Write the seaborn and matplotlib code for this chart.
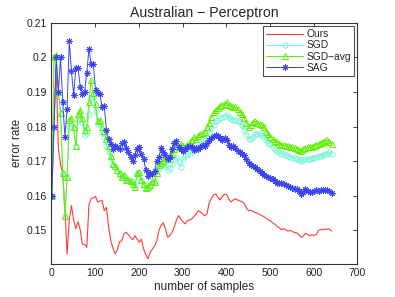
import pandas as pd
import matplotlib
matplotlib.use('Agg')
import matplotlib.pyplot as plt
import seaborn as sns

# number of samples seen (x positions of the recorded points)
n_samples = list(range(1, 642, 5))

# error rate of each method
err_ours = [
    0.160, 0.180, 0.197, 0.1736, 0.169, 0.1664, 0.1562, 0.1432, 0.153, 0.1572,
    0.153, 0.1505, 0.1525, 0.1502, 0.146, 0.146, 0.1451, 0.1575, 0.1592, 0.1594,
    0.1598, 0.1582, 0.1585, 0.1586, 0.1557, 0.1567, 0.151, 0.147, 0.1448, 0.1432,
    0.1445, 0.1467, 0.147, 0.149, 0.1495, 0.1488, 0.148, 0.1473, 0.1485, 0.1475,
    0.1466, 0.1475, 0.1446, 0.143, 0.1418, 0.1437, 0.1446, 0.1455, 0.147, 0.150,
    0.1515, 0.1522, 0.1504, 0.148, 0.1485, 0.1495, 0.151, 0.153, 0.1543, 0.1533,
    0.1525, 0.1519, 0.1528, 0.153, 0.1533, 0.154, 0.1548, 0.1557, 0.1553, 0.1548,
    0.1542, 0.1548, 0.1581, 0.1592, 0.1603, 0.1605, 0.1595, 0.1588, 0.1598, 0.1605,
    0.1603, 0.159, 0.1582, 0.1588, 0.1591, 0.1588, 0.1585, 0.1583, 0.1578, 0.1565,
    0.1557, 0.1558, 0.1555, 0.1552, 0.155, 0.1546, 0.1543, 0.154, 0.1535, 0.153,
    0.1528, 0.1522, 0.1518, 0.1512, 0.1508, 0.1502, 0.1505, 0.1502, 0.1498, 0.150,
    0.1497, 0.1494, 0.1493, 0.1488, 0.148, 0.1483, 0.1492, 0.1488, 0.1485, 0.1487,
    0.1486, 0.1488, 0.150, 0.1502, 0.1503, 0.1503, 0.1504, 0.1504, 0.1498,
]
err_sgd = [
    0.160, 0.200, 0.200, 0.190, 0.184, 0.1667, 0.1542, 0.1653, 0.180, 0.181,
    0.1795, 0.1745, 0.182, 0.1835, 0.181, 0.1775, 0.178, 0.1837, 0.1883, 0.1885,
    0.1845, 0.1808, 0.181, 0.178, 0.177, 0.1745, 0.1725, 0.1706, 0.169, 0.1683,
    0.1672, 0.1663, 0.1655, 0.1658, 0.1648, 0.1646, 0.1643, 0.1637, 0.1628, 0.1662,
    0.1665, 0.1645, 0.1635, 0.1622, 0.1625, 0.163, 0.1638, 0.1642, 0.1672, 0.168,
    0.1688, 0.1693, 0.169, 0.1673, 0.168, 0.1692, 0.1705, 0.1712, 0.1698, 0.1683,
    0.1705, 0.1715, 0.172, 0.1722, 0.1728, 0.1735, 0.1735, 0.1742, 0.1748, 0.1752,
    0.1758, 0.1768, 0.178, 0.1795, 0.1805, 0.1815, 0.182, 0.1825, 0.1828, 0.183,
    0.1832, 0.1828, 0.1822, 0.182, 0.1818, 0.1815, 0.1812, 0.1805, 0.179, 0.1775,
    0.1765, 0.1764, 0.177, 0.1778, 0.1779, 0.1778, 0.1775, 0.177, 0.176, 0.1752,
    0.175, 0.1742, 0.1735, 0.173, 0.1725, 0.1722, 0.172, 0.1718, 0.1715, 0.1712,
    0.171, 0.1708, 0.1706, 0.1703, 0.170, 0.1702, 0.1705, 0.1706, 0.1706, 0.1708,
    0.171, 0.1712, 0.1715, 0.1716, 0.1718, 0.172, 0.1722, 0.1725, 0.1722,
]
err_sgd_avg = [
    0.160, 0.200, 0.2005, 0.190, 0.184, 0.1667, 0.1542, 0.1653, 0.182, 0.1825,
    0.1798, 0.1745, 0.1835, 0.1849, 0.1825, 0.179, 0.1798, 0.1872, 0.1933, 0.1897,
    0.1865, 0.1817, 0.182, 0.1798, 0.1788, 0.1765, 0.1745, 0.1716, 0.1692, 0.1685,
    0.1675, 0.1665, 0.1653, 0.1659, 0.1645, 0.1645, 0.1643, 0.1635, 0.1625, 0.1665,
    0.1668, 0.1645, 0.1635, 0.1622, 0.1625, 0.1632, 0.1642, 0.164, 0.1665, 0.169,
    0.1695, 0.170, 0.1712, 0.1705, 0.1718, 0.172, 0.1735, 0.1745, 0.1742, 0.175,
    0.1745, 0.1738, 0.1748, 0.1755, 0.1762, 0.177, 0.1765, 0.1772, 0.1778, 0.178,
    0.1785, 0.1798, 0.181, 0.1828, 0.1842, 0.1848, 0.1852, 0.1858, 0.1862, 0.1865,
    0.187, 0.1862, 0.1858, 0.1856, 0.1855, 0.185, 0.1842, 0.1835, 0.1825, 0.181,
    0.1798, 0.1805, 0.1812, 0.1815, 0.181, 0.1808, 0.1805, 0.1798, 0.1785, 0.1778,
    0.177, 0.1765, 0.1758, 0.1755, 0.175, 0.1748, 0.1746, 0.1745, 0.1743, 0.1742,
    0.174, 0.1738, 0.1735, 0.1732, 0.173, 0.1735, 0.1738, 0.174, 0.174, 0.1742,
    0.1745, 0.1748, 0.175, 0.1752, 0.1755, 0.1758, 0.176, 0.1756, 0.175,
]
err_sag = [
    0.160, 0.180, 0.200, 0.190, 0.200, 0.187, 0.177, 0.185, 0.2046, 0.196,
    0.189, 0.197, 0.197, 0.1915, 0.1895, 0.190, 0.1955, 0.2024, 0.198, 0.198,
    0.1906, 0.1897, 0.1893, 0.1856, 0.1858, 0.179, 0.1765, 0.175, 0.1735, 0.1745,
    0.1742, 0.1735, 0.1752, 0.1755, 0.1738, 0.1726, 0.1712, 0.170, 0.1718, 0.1735,
    0.1742, 0.172, 0.1705, 0.1675, 0.1658, 0.1665, 0.1662, 0.1672, 0.170, 0.1712,
    0.1738, 0.1725, 0.1718, 0.1705, 0.1712, 0.1735, 0.1752, 0.1758, 0.1742, 0.1735,
    0.1728, 0.1735, 0.1742, 0.1745, 0.174, 0.1733, 0.1738, 0.1735, 0.1742, 0.1748,
    0.1745, 0.1752, 0.1762, 0.1768, 0.1772, 0.1775, 0.1772, 0.1768, 0.1762, 0.1768,
    0.176, 0.1748, 0.1742, 0.1745, 0.1738, 0.1728, 0.1725, 0.1722, 0.1718, 0.1705,
    0.1695, 0.169, 0.1685, 0.1682, 0.1678, 0.1672, 0.1665, 0.166, 0.1658, 0.1654,
    0.165, 0.1648, 0.1642, 0.1638, 0.1636, 0.1638, 0.1634, 0.163, 0.1628, 0.1626,
    0.1622, 0.162, 0.162, 0.1615, 0.1605, 0.161, 0.162, 0.1615, 0.161, 0.1612,
    0.1615, 0.1617, 0.1614, 0.1617, 0.1618, 0.1616, 0.1617, 0.1614, 0.1607,
]

x_ticks = [0, 100, 200, 300, 400, 500, 600, 700]
y_ticks = [0.15, 0.16, 0.17, 0.18, 0.19, 0.20, 0.21]
y_tick_labels = ['0.15', '0.16', '0.17', '0.18', '0.19', '0.2', '0.21']

df = pd.DataFrame({'samples': n_samples, 'Ours': err_ours, 'SGD': err_sgd,
                   'SGD\u2212avg': err_sgd_avg, 'SAG': err_sag})

sns.set_style('white')
plt.rcParams['font.family'] = ['Liberation Sans', 'DejaVu Sans']

fig = plt.figure(figsize=(3.95, 2.97), dpi=100)
ax = fig.add_axes([0.130, 0.111, 0.775, 0.813])

# (column, colour, marker, marker size)
styles = [
    ('Ours', '#ff3b3b', None, 0),
    ('SGD', '#7ff5dc', 'o', 3.8),
    ('SGD\u2212avg', '#5ef000', '^', 4.3),
    ('SAG', '#3b45f5', (8, 2, 0), 4.5),
]
for col, c, m, ms in styles:
    if m is None:
        sns.lineplot(data=df, x='samples', y=col, ax=ax, color=c, lw=0.8, label=col)
    else:
        sns.lineplot(data=df, x='samples', y=col, ax=ax, color=c, lw=0.7, marker=m,
                     markersize=ms, mfc='none', mec=c, mew=0.7, label=col)

ax.set_xlim(0, 700)
ax.set_ylim(0.1403, 0.21)
ax.set_xticks(x_ticks)
ax.set_yticks(y_ticks)
ax.set_yticklabels(y_tick_labels)
ax.tick_params(direction='in', length=3, width=0.6, labelsize=7.5, colors='#222222',
               top=True, right=True, pad=3)
for sp in ax.spines.values():
    sp.set_color('#333333')
    sp.set_linewidth(0.8)

ax.set_title('Australian \u2212 Perceptron', fontsize=10.2, pad=4)
ax.set_xlabel('number of samples', fontsize=8.5, labelpad=2)
ax.set_ylabel('error rate', fontsize=8.5, labelpad=3)

leg = ax.legend(loc='upper right', fontsize=7.4, frameon=True, fancybox=False,
                handlelength=3.6, handletextpad=0.3, labelspacing=0.12,
                borderaxespad=0.35, borderpad=0.3)
leg.get_frame().set_edgecolor('#222222')
leg.get_frame().set_linewidth(0.8)

plt.savefig('out.png', dpi=100)
